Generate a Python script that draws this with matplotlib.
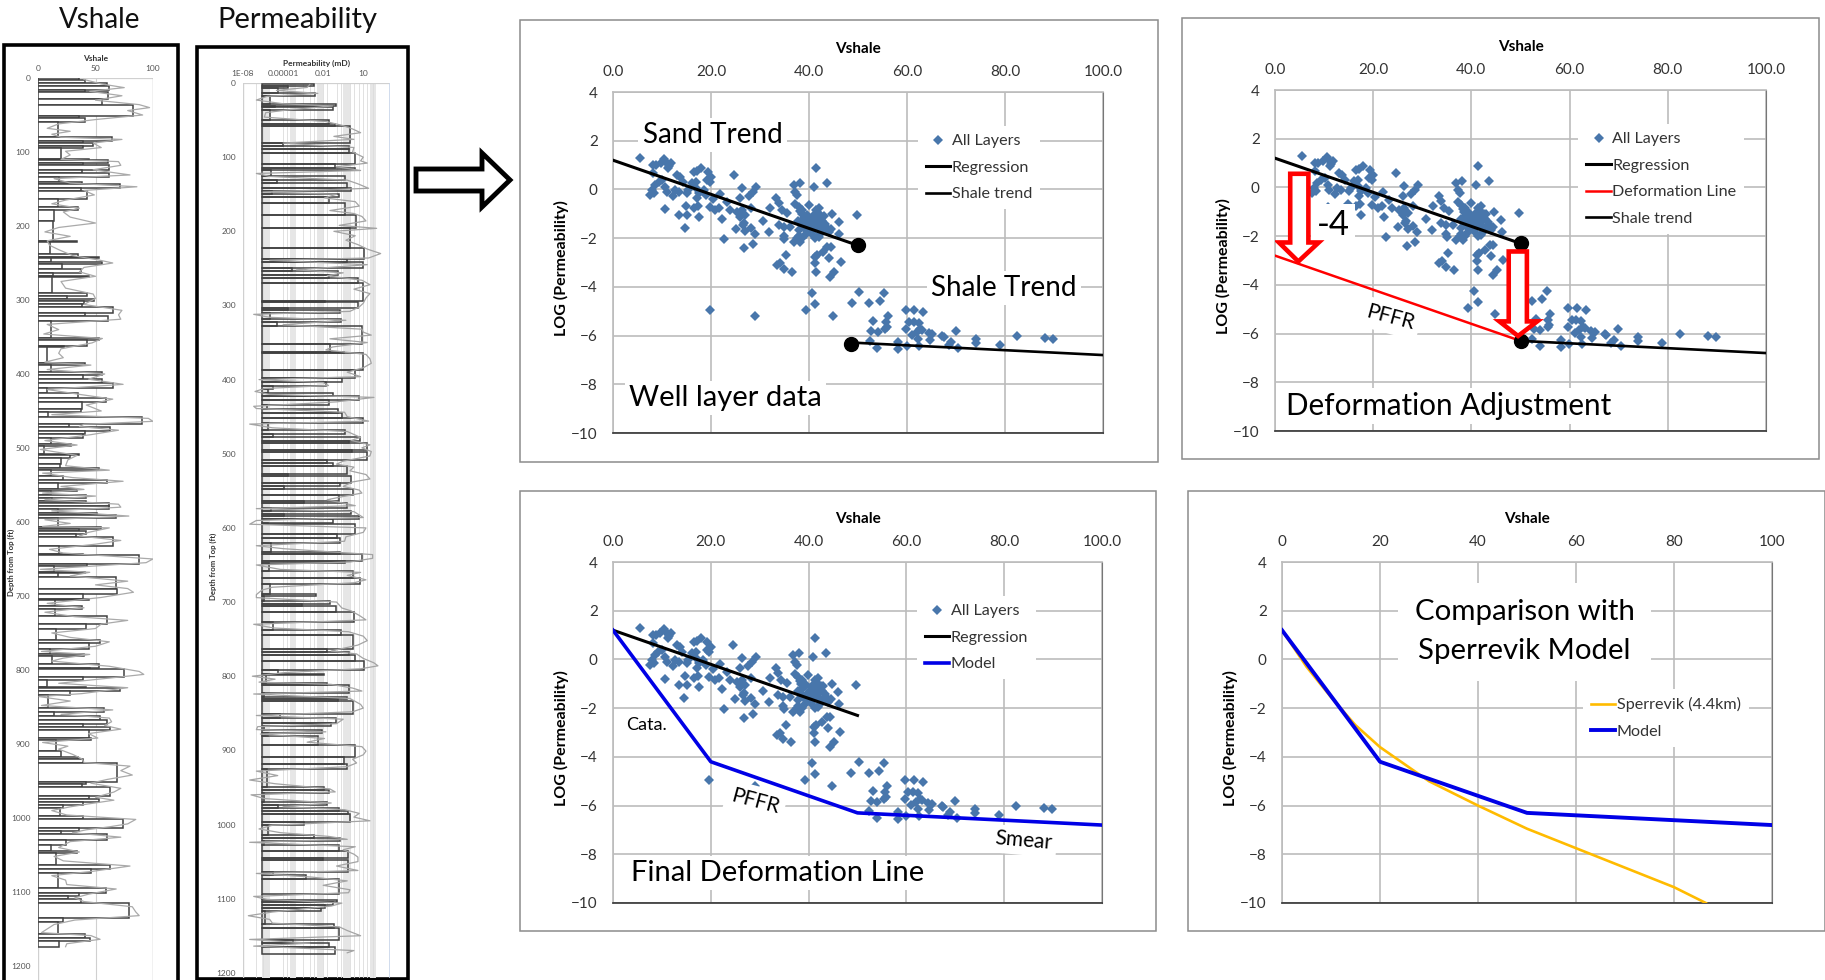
import numpy as np
import matplotlib
matplotlib.use('Agg')
import matplotlib.pyplot as plt
from matplotlib.patches import Rectangle, Polygon
from matplotlib.ticker import FormatStrFormatter, FixedLocator, NullFormatter

plt.rcParams['font.family'] = ['Lato', 'DejaVu Sans']

W, H = 1825, 980

# layer scatter
layer_vsh = [5.6, 8.2, 8.8, 9.7, 10.5, 10.9, 11.2, 11.9, 11.5, 8.2, 10.1, 9.3, 8.5, 8.0, 7.6, 8.3, 10.7, 11.0, 12.2, 12.7,
             13.4, 13.1, 13.7, 14.2, 15.1, 15.4, 16.1, 16.9, 16.5, 17.1, 18.0, 19.3, 20.0, 19.2, 19.7, 17.0, 17.5, 18.5, 19.0, 17.1,
             16.5, 17.3, 14.8, 13.4, 15.2, 17.5, 14.6, 10.7, 19.7, 20.4, 21.9, 21.7, 20.9, 23.3, 22.2, 22.7, 24.6, 26.3, 26.0, 25.0,
             23.9, 25.3, 26.3, 27.0, 26.0, 26.7, 26.5, 27.0, 26.8, 28.6, 28.2, 29.0, 28.2, 27.7, 28.5, 29.2, 30.7, 31.9, 32.1, 33.3,
             33.8, 34.4, 35.5, 33.8, 34.8, 36.2, 34.8, 35.0, 36.9, 38.6, 37.9, 36.9, 38.1, 37.2, 37.6, 37.2, 37.9, 38.6, 39.9, 41.0,
             41.4, 43.6, 42.0, 41.4, 44.7, 46.1, 44.5, 46.2, 49.7, 38.9, 39.6, 40.6, 41.6, 42.7, 43.3, 38.6, 37.9, 39.9, 41.0, 42.0,
             42.8, 44.0, 42.0, 41.3, 42.3, 39.3, 38.2, 37.6, 39.5, 40.2, 41.0, 41.8, 42.5, 38.5, 39.0, 40.5, 43.0, 43.5, 41.5, 42.2,
             40.9, 37.8, 38.2, 44.4, 43.7, 42.8, 41.6, 41.2, 44.0, 46.5, 41.2, 41.4, 45.2, 44.3, 35.3, 34.1, 33.5, 34.8, 36.5, 19.7,
             29.0, 40.6, 41.3, 39.3, 44.8, 50.3, 48.7, 52.3, 54.4, 55.4, 59.7, 61.5, 63.3, 53.1, 56.1, 55.7, 55.9, 55.5, 52.7, 54.0,
             59.7, 60.4, 61.4, 62.4, 62.7, 62.0, 61.0, 63.1, 64.4, 65.2, 64.6, 62.3, 67.2, 69.9, 69.0, 68.5, 70.4, 74.0, 74.0, 78.9,
             82.4, 88.2, 89.8, 52.4, 58.2, 53.9, 58.2, 59.9, 62.5, 67.5]
layer_logk = [1.29, 1.0, 1.0, 1.07, 1.23, 1.14, 0.89, 1.1, 0.96, 0.66, 0.38, 0.32, 0.18, -0.03, -0.23, -0.16, 0.08, -0.1, -0.27, -0.03,
              -0.1, 0.59, 0.49, 0.32, -0.16, -0.03, 0.25, 0.32, 0.73, 0.77, 0.9, 0.73, 0.52, 0.38, 0.32, 0.04, -0.16, -0.03, -0.23, -0.37,
              -0.78, -0.68, -0.68, -1.03, -1.03, -1.15, -1.59, -0.82, -0.74, -0.41, -0.19, -0.75, -0.85, -0.51, -1.22, -2.03, 0.58, 0.04, -0.37, -1.64,
              -0.85, -0.92, -0.85, -1.03, -1.15, -1.37, -1.47, -1.71, -2.4, -2.22, -1.6, -1.84, -0.78, -0.27, -0.1, 0.11, -1.29, -1.74, -0.78, -0.34,
              -0.55, -0.85, -0.95, -1.47, -1.53, -1.53, -1.92, -2.05, -2.15, -2.01, -1.92, 0.18, 0.27, -0.1, -0.23, -0.58, -0.71, -0.85, -0.64, 0.08,
              0.89, 0.25, -0.75, -0.85, -0.99, -1.33, -1.64, -1.84, -1.05, -1.19, -1.4, -1.19, -1.26, -1.29, -1.4, -1.47, -1.67, -1.6, -1.67, -1.53,
              -1.67, -1.74, -1.95, -2.01, -1.81, -1.81, -2.15, -2.01, -1.05, -1.3, -1.05, -0.95, -1.1, -1.0, -1.6, -1.8, -1.1, -1.55, -1.45, -1.35,
              -1.5, -1.3, -0.9, -2.36, -2.38, -2.56, -2.7, -2.77, -2.81, -2.97, -3.04, -3.38, -3.37, -3.59, -2.71, -3.04, -3.11, -3.25, -3.41, -4.96,
              -5.21, -4.24, -4.69, -4.93, -5.2, -4.2, -4.65, -4.67, -4.57, -4.27, -4.95, -4.93, -5.02, -5.4, -5.2, -5.43, -5.64, -5.75, -5.8, -5.84,
              -5.73, -5.45, -5.45, -5.5, -5.73, -5.84, -5.98, -5.77, -5.91, -5.94, -6.18, -6.16, -6.02, -5.81, -6.25, -6.39, -6.49, -6.16, -6.32, -6.39,
              -6.0, -6.1, -6.16, -6.23, -6.25, -6.5, -6.55, -6.43, -6.43, -6.07]

# trend lines
reg_x = [0, 50]
reg_y = [1.2, -2.3]
shale_x = [50, 60, 70, 80, 100]
shale_y = [-6.3, -6.4, -6.5, -6.6, -6.8]
deform_x = [0, 50]
deform_y = [-2.8, -6.3]
model_x = [0, 20, 50, 60, 70, 80, 100]
model_y = [1.2, -4.2, -6.3, -6.4, -6.5, -6.6, -6.8]
sperr_x = [0, 5, 10, 15, 20, 30, 40, 50, 60, 70, 80, 86.5]
sperr_y = [1.2, -0.3, -1.55, -2.7, -3.6, -5.0, -6.0, -6.95, -7.75, -8.55, -9.35, -10.0]

x_ticks = [0, 20, 40, 60, 80, 100]
y_ticks = [4, 2, 0, -2, -4, -6, -8, -10]

# Vshale log: layer tops (last entry is the last base), layer values
vsh_tops = [0, 3, 7, 11, 16, 19, 29, 36, 52, 54, 60, 80, 85, 88, 92, 95, 109, 111, 115, 117, 124, 128, 134, 140, 143, 149, 153, 163,
            175, 178, 193, 220, 222, 238, 242, 243, 249, 252, 258, 263, 268, 269, 291, 295, 299, 301, 305, 309, 317, 321,
            329, 351, 354, 362, 364, 385, 388, 397, 402, 407, 412, 419, 426, 432, 438, 448, 452, 458, 468, 472, 477, 481, 487, 495, 498,
            508, 509, 514, 521, 527, 530, 538, 543, 547, 555, 558, 563, 567, 572, 574, 578, 582, 588, 590, 594, 607, 609, 612, 616, 620,
            633, 643, 645, 657, 660, 667, 669, 675, 690, 698, 704, 706, 713, 717, 727, 738, 745, 760, 764,
            772, 778, 781, 792, 797, 799, 810, 814, 823, 825, 828, 834, 852, 857, 862, 867, 873, 877, 881, 892, 895, 909, 918, 921, 926,
            951, 954, 958, 970, 974, 978, 982, 986, 998, 1001, 1014, 1018, 1022, 1030, 1037, 1045, 1048, 1063, 1069, 1075, 1094, 1102,
            1105, 1110, 1115, 1135, 1140, 1157, 1162, 1166, 1175]
vsh_vals = [36, 41, 60, 62, 41, 61, 56, 83, 36, 41, 17, 64, 39, 48, 39, 20, 44, 61, 39, 62, 38, 62, 18, 38, 71, 37, 43, 17,
            35, 14, 13, 34, 10, 35, 53, 11, 56, 21, 37, 13, 44, 12, 43, 25, 49, 40, 38, 65, 41, 61,
            11, 53, 43, 23, 8, 41, 11, 56, 39, 56, 65, 8, 35, 59, 38, 37, 9, 90, 27, 63, 41, 39, 11, 29, 5,
            36, 28, 20, 19, 53, 11, 22, 60, 17, 34, 11, 42, 12, 42, 62, 62, 17, 51, 68, 17, 55, 36, 42, 33, 65,
            18, 39, 88, 43, 14, 41, 17, 68, 69, 39, 44, 15, 38, 15, 60, 42, 16, 54, 44,
            10, 40, 12, 53, 45, 75, 39, 8, 42, 71, 28, 9, 57, 14, 54, 60, 39, 63, 44, 46, 16, 20, 35, 39, 69,
            42, 38, 63, 44, 53, 39, 22, 19, 39, 74, 36, 20, 60, 24, 11, 34, 16, 63, 46, 17, 59, 36,
            26, 37, 79, 22, 17, 41, 45, 18]

# raw Vshale curve
vsh_raw_d = [2, 8, 13, 18, 24, 30, 36, 40, 44, 50, 56, 62, 68, 72, 76, 80, 83, 88, 94, 99, 104, 110, 113, 118, 124, 131, 136, 142, 147, 152, 158,
             165, 170, 176, 181, 188, 196, 202, 208, 214, 220, 226, 232, 240, 246, 250, 256, 262, 268, 275, 284, 292, 298, 306, 314, 320, 326, 333, 340, 346,
             352, 358, 366, 372, 378, 384, 388, 394, 400, 407, 414, 421, 428, 434, 442, 450, 455, 460, 464, 468, 471, 476, 482, 490, 496, 502, 510, 516, 524,
             530, 534, 540, 545, 552, 556, 561, 565, 570, 576, 580, 585, 592, 597, 602, 606, 608, 614, 619, 625, 630, 637, 642, 650, 655, 660, 664, 668, 673,
             680, 685, 690, 695, 702, 710, 716, 722, 728, 733, 738, 744, 750, 756, 762, 768, 775,
             779, 784, 788, 795, 802, 806, 811, 818, 824, 828, 832, 836, 842, 848, 854, 860, 865, 870, 875, 880, 886, 892, 898, 903, 907, 914, 920, 925, 930,
             936, 942, 948, 953, 960, 965, 972, 976, 981, 985, 990, 996, 1002, 1008, 1012, 1016, 1020, 1026, 1032, 1040, 1046, 1052, 1058, 1065, 1072, 1078,
             1084, 1090, 1096, 1103, 1108, 1113, 1120, 1127, 1132, 1138, 1144, 1150, 1155, 1159, 1164, 1170, 1174]
vsh_raw_v = [40, 55, 75, 45, 73, 50, 88, 97, 78, 91, 51, 18, 8, 28, 12, 20, 73, 48, 55, 24, 28, 20, 70, 72, 48, 80, 14, 28, 86, 40, 49,
             24, 12, 36, 22, 28, 50, 18, 6, 28, 8, 10, 18, 30, 53, 65, 40, 36, 50, 20, 24, 48, 50, 40, 73, 70, 72, 8, 18, 5,
             56, 47, 20, 18, 22, 6, 46, 8, 58, 44, 74, 8, 38, 65, 42, 55, 12, 96, 100, 40, 36, 70, 46, 6, 34, 2, 34, 26, 24,
             62, 4, 30, 74, 20, 40, 4, 50, 6, 70, 72, 12, 79, 6, 28, 4, 62, 44, 36, 72, 50, 10, 22, 100, 94, 44, 2, 45, 28,
             78, 50, 78, 83, 55, 8, 40, 6, 32, 78, 55, 50, 12, 28, 62, 50, 3,
             45, 22, 12, 62, 88, 92, 62, 18, 78, 58, 38, 1, 28, 3, 65, 20, 62, 64, 58, 72, 44, 52, 4, 26, 18, 30, 38, 40, 80,
             72, 82, 60, 46, 72, 66, 50, 66, 44, 28, 12, 25, 85, 78, 62, 42, 30, 72, 28, 18, 36, 14, 22, 80, 48, 12,
             24, 25, 68, 44, 32, 40, 82, 85, 88, 32, 14, 8, 3, 46, 54, 25, 24]

# Permeability log, log10(mD) per layer
perm_tops = [1, 4, 7, 13, 17, 28, 31, 33, 36, 50, 55, 58, 81, 85, 89, 95, 109, 114, 118, 125, 131, 135, 142, 145, 150, 154, 162, 178, 195,
             222, 238, 241, 250, 253, 259, 263, 270, 294, 296, 303, 306, 310, 318, 322, 328,
             352, 363, 364, 387, 398, 403, 408, 412, 418, 422, 427, 434, 440, 445, 452, 459, 468, 473, 477, 483, 486, 495, 498, 508, 513, 516,
             527, 530, 540, 543, 548, 555, 564, 567, 573, 577, 581, 584, 588, 593, 595, 608, 613, 620, 632, 635, 645, 647, 658, 667, 676, 689,
             692, 698, 702, 705, 713, 727, 738, 744,
             763, 768, 772, 780, 792, 797, 799, 809, 812, 822, 828, 831, 834, 851, 856, 863, 867, 872, 876, 881, 893, 909, 918, 925, 950, 954,
             958, 969, 974, 978, 982, 986, 997, 1000, 1014, 1018, 1022, 1028, 1036, 1045, 1048, 1064, 1068, 1074, 1094, 1102, 1105, 1108, 1112,
             1116, 1134, 1139, 1156, 1160, 1165, 1174]
perm_vals = [-2.7, -4.6, -5.4, -2.6, -5.95, -1.05, -5.6, -1.25, -5.95, -1.6, -1.1, -0.03, -5.0, -0.05, -0.1, 0.4, -1.1, 0.38, -5.9, -0.4, -5.45, -0.25, 0.1, -5.8, -0.8, -1.55, -0.35, 0.48, -0.03,
             1.08, -0.25, 1.0, -4.3, -0.88, -1.55, 0.58, 0.98, -1.9, 0.58, -4.6, -0.75, -5.95, -0.7, -5.45, 0.88,
             -1.5, -0.45, 1.0, 0.38, -0.6, -1.8, -5.75, -6.1, -1.25, 0.7, -1.55, -6.2, -0.88, -0.6, 0.98, -6.1, -0.33, -5.75, 0.75, -0.1, 1.25, 0.13, 1.3, -1.7, -1.25, -0.25,
             -4.6, 0.05, -0.75, -4.95, 0.25, -0.83, -3.4, -0.25, -5.9, 0.05, -4.9, 0.7, -1.25, -6.1, 0.38, -0.93, -0.75, -5.9, -0.75, 0.9, -0.4, -6.05, 0.25, 0.75, -5.95, -2.55,
             -6.4, -1.5, -3.6, -1.05, 0.33, -5.75, -0.63, 0.25,
             -1.7, -0.05, 0.35, 1.08, -5.4, -1.95, -6.25, -1.7, -0.05, -6.4, -0.25, -0.88, 0.2, -5.2, -1.05, -1.4, -6.4, -2.07, -6.1, -2.4, 0.4, -0.45, -0.25, -6.2, -1.93, -1.6,
             -6.4, -1.7, -5.4, -0.8, -0.18, 0.0, -3.4, -6.1, -2.7, -0.75, -6.4, -0.83, -0.13, -2.0, -0.18, -5.75, -3.3, -0.78, -6.55, -0.95, -1.25, -1.9, -2.2,
             -6.35, -1.22, -0.8, -4.25, -1.6, -1.1]

perm_raw_d = [2, 6, 10, 14, 18, 23, 28, 31, 36, 40, 46, 52, 57, 62, 67, 72, 76, 81, 87, 93, 100, 105, 108, 113, 118, 122, 126, 131, 136, 142, 147, 150, 155, 160, 166, 172,
              176, 180, 186, 192, 196, 200, 206, 212, 218, 224, 230, 236, 239, 245, 252, 256, 260, 266, 272, 278, 284, 290, 297, 302, 308, 312, 316, 320, 326, 332,
              336, 340, 345, 350, 356, 360, 366, 372, 378, 384, 390, 396, 400, 404, 408, 412, 416, 420, 424, 430, 436, 439, 444, 450, 456, 460, 465, 470, 478, 482, 488, 492, 497, 503,
              510, 514, 518, 523, 528, 534, 538, 544, 549, 553, 558, 562, 570, 574, 578, 586, 590, 595, 600, 606, 612, 618, 624, 628, 636, 641, 646, 650, 656, 660, 664, 670, 674,
              680, 684, 690, 694, 700, 708, 712, 718, 724, 730, 735, 740, 746, 752, 758,
              766, 770, 776, 782, 786, 790, 795, 800, 804, 808, 811, 816, 820, 824, 830, 838, 843, 848, 853, 858, 864, 868, 872, 875, 878, 884, 889, 895, 901, 906, 912, 917, 922,
              928, 934, 940, 945, 952, 956, 960, 965, 971, 976, 980, 985, 990, 995, 1001, 1006, 1011, 1016, 1020, 1024, 1030, 1034, 1040, 1044, 1050, 1056, 1062, 1066, 1071, 1076,
              1082, 1088, 1092, 1097, 1101, 1106, 1110, 1118, 1123, 1128, 1133, 1138, 1143, 1150, 1155, 1160, 1164, 1170, 1173]
perm_raw_v = [-3, -3.2, -5.5, -2.4, -6.2, -7, -5, -1.3, -4.5, -6.3, -6.4, -1.8, -0.6, 0.2, 0.8, -1.2, 0.3, -5, 0.3, 0.2, 1.0, 0.8, 1.3, -1, 0.8, -7, -6, -0.2, 0.6, 1.4, -6.5, -1, -1.9, 0.4, 0.7, -1.5,
              0.3, 0.9, 1.2, -0.8, 2.0, -1.2, 0.4, -0.3, 0.6, 1.3, 2.3, 1.4, -6, 1.3, -4, -0.5, -1.7, 0.9, 1.5, 0.3, 1.5, 1.2, 1, 0.7, 0, -7.2, -6, -0.3, -5, 0.9,
              1, 1.6, -1.5, 1.3, -1.3, -1.8, 1.2, 1.5, 1.6, 1.0, -0.2, 0.8, -6.8, -2, -1.6, -6.4, -7.1, -6, 1.8, -1.0, -7.2, -7, -0.4, -0.2, 1.4, -7.5, -5.8, -0.2, 0.8, 0.1, 1.5, 0.9, 1.6, 1.5,
              -0.5, -1, 0.3, 0, 1.2, 1.5, 0.2, -0.5, 0.7, 0.9, -0.6, -1.7, 0.4, -7, 0.3, 1.0, -7, -7.5, 1.2, 1.0, -0.3, -0.4, -7, -5, 1.7, 1.7, 0, -7, -5.2, 0.8, -0.2, 1.2, 0.3,
              -5.8, -6.6, -7, -7, -1, -0.6, 0.1, 0.7, 1.2, -7.2, -5.7, -0.1, 1, 1.3, 0.6,
              -1.4, 0.5, 1, 1.8, 2.1, 0.8, -4.8, -7.3, -5.6, -6.8, -1.4, 0.2, 0.9, -7.2, 0.0, 0.8, 1, 0.2, -7, -0.5, -1, -6.9, -7, -1.8, -6.7, -1.9, -3.2, 0.9, 1.2, 1.0, 0.2, 0.5, -0.2,
              -7, -5.4, -7.5, -5.6, -1.5, -1.1, -7.4, -6.4, -1.4, -5, -0.4, 0.7, 0.3, 1.5, -5.8, -6.8, -5.2, -1.6, -0.2, -7.5, 0.4, -0.5, 0.3, 0.6, 0.6, -1, 0.6, -7, -2.8, -0.2,
              -2, 0, -0.1, -7.2, -6.2, -0.6, -1.4, -5.8, -7.6, -6, -5.8, -0.8, -0.2, 0.8, -7.5, -3, -7.2, 0.3, -0.2]
perm_bands = [(-6.55, -6.0), (-4.5, -4.0), (-2.5, -2.0), (-0.5, 0.0), (1.5, 1.95)]

depth_ticks = list(range(0, 1300, 100))

BLUE = '#4876ab'


def px_axes(fig, x0, y0, x1, y1):
    # axes placed by pixel box, y measured from the top
    return fig.add_axes([x0 / W, 1 - y1 / H, (x1 - x0) / W, (y1 - y0) / H])


def white_text(ax, x, y, s, size=20, rot=0, pad=3, **kw):
    ax.text(x, y, s, fontsize=size, rotation=rot, ha='center', va='center', color='black', zorder=4,
            bbox=dict(facecolor='white', edgecolor='none', pad=pad), **kw)


def cross_plot(fig, box, tick_fmt='%.1f'):
    ax = px_axes(fig, *box)
    ax.set_xlim(0, 100)
    ax.set_ylim(-10, 4)
    ax.xaxis.tick_top()
    ax.xaxis.set_label_position('top')
    ax.set_xticks(x_ticks)
    ax.set_yticks(y_ticks)
    ax.xaxis.set_major_formatter(FormatStrFormatter(tick_fmt))
    ax.tick_params(length=0, labelsize=11, labelcolor='#333333', pad=9)
    ax.tick_params(axis='y', pad=11)
    ax.grid(True, color='#bcbcbc', lw=1.2, zorder=0)
    ax.set_axisbelow(True)
    for side in ['top', 'left']:
        ax.spines[side].set_color('#bcbcbc')
        ax.spines[side].set_linewidth(1.2)
    ax.spines['right'].set_color('#777777')
    ax.spines['bottom'].set_color('#333333')
    ax.spines['bottom'].set_linewidth(1.2)
    ax.set_xlabel('Vshale', fontsize=11, fontweight='bold', labelpad=9)
    ax.set_ylabel('LOG (Permeability)', fontsize=11.5, fontweight='bold', labelpad=1.3, y=0.485)
    return ax


def add_legend(ax, x, y):
    leg = ax.legend(loc='upper left', bbox_to_anchor=(x, y), borderaxespad=0, frameon=True, framealpha=1,
                    facecolor='white', edgecolor='none', fontsize=11.6, labelspacing=0.75, handlelength=1.5,
                    handletextpad=0.1, borderpad=0.5, labelcolor='#333333')
    leg.get_frame().set_linewidth(0)
    leg.set_zorder(2)


def scatter(ax):
    ax.plot(layer_vsh, layer_logk, 'D', color=BLUE, ms=5, mew=0, label='All Layers', zorder=3, clip_on=False)


fig = plt.figure(figsize=(W / 100, H / 100), dpi=100)

# page layer: boxes, headers and the big arrow, in reference pixels
page = fig.add_axes([0, 0, 1, 1], zorder=0)
page.set_xlim(0, W)
page.set_ylim(H, 0)
page.axis('off')
for box in [(520, 20, 1158, 462), (1182, 18, 1819, 459), (520, 491, 1156, 931), (1188, 491, 1825, 931)]:
    page.add_patch(Rectangle((box[0], box[1]), box[2] - box[0], box[3] - box[1], fc='white', ec='#8c8c8c', lw=1.1))
page.add_patch(Rectangle((4, 45), 174, 960, fc='white', ec='black', lw=2.6))
page.add_patch(Rectangle((197, 47), 211, 932, fc='white', ec='black', lw=2.6))
page.text(100, 20, 'Vshale', fontsize=20, ha='center', va='center', color='#111111')
page.text(297, 20, 'Permeability', fontsize=21, ha='center', va='center', color='#111111')
page.add_patch(Polygon([(416, 169), (482, 169), (482, 153), (510, 180), (482, 207), (482, 191), (416, 191)],
                       closed=True, fc='white', ec='black', lw=3.5))
page.text(11, 562, 'Depth from Top (ft)', fontsize=5.6, fontweight='bold', rotation=90, ha='center', va='center', color='#333333')
page.text(213, 566, 'Depth from Top (ft)', fontsize=5.6, fontweight='bold', rotation=90, ha='center', va='center', color='#333333')

# Vshale log
v_ax = px_axes(fig, 38, 78, 153, 980)
v_ax.patch.set_alpha(0)
v_ax.set_xlim(0, 100)
v_ax.set_ylim(1219, 0)
v_heights = np.diff(vsh_tops)
v_ax.barh(vsh_tops[:len(v_heights)], vsh_vals[:len(v_heights)], height=v_heights, align='edge',
          color='white', edgecolor='#404040', lw=1.1, zorder=2)
v_ax.plot(vsh_raw_v, vsh_raw_d, color='#aaaaaa', lw=0.9, zorder=3)
v_ax.xaxis.tick_top()
v_ax.set_xticks([0, 50, 100])
v_ax.set_yticks(depth_ticks)
v_ax.tick_params(labelsize=6, length=0, labelcolor='#555555', pad=4)
v_ax.tick_params(axis='y', pad=5.5)
v_ax.grid(axis='x', color='#d0d0d0', lw=0.8)
v_ax.set_axisbelow(True)
for s in v_ax.spines.values():
    s.set_visible(False)
v_ax.axvline(0, color='#d0d0d0', lw=0.9, zorder=1)
v_ax.axhline(0, color='#d0d0d0', lw=0.9, zorder=1)
v_ax.axvline(100, color='#c4c4c4', lw=1.0, zorder=1)
v_ax.xaxis.set_label_position('top')
v_ax.set_xlabel('Vshale', fontsize=6, fontweight='bold', labelpad=3, color='#333333')

# Permeability log
p_ax = px_axes(fig, 243, 83, 390, 978)
p_ax.patch.set_alpha(0)
p_ax.set_xscale('log')
p_ax.set_xlim(1e-8, 1e3)
p_ax.set_ylim(1207, 0)
base = 10 ** -6.55
p_heights = np.diff(perm_tops)
p_vals = 10.0 ** np.array(perm_vals[:len(p_heights)])
p_ax.barh(perm_tops[:len(p_heights)], p_vals - base, height=p_heights, left=base, align='edge',
          color='none', edgecolor='#404040', lw=1.1, zorder=2)
p_ax.plot(10.0 ** np.array(perm_raw_v), perm_raw_d, color='#a4a4a4', lw=0.9, zorder=3)
for b0, b1 in perm_bands:
    p_ax.axvspan(10 ** b0, 10 ** b1, color='#e6e6e6', lw=0, zorder=0)
p_ax.xaxis.tick_top()
p_ax.xaxis.set_major_locator(FixedLocator([1e-8, 1e-5, 1e-2, 10]))
p_ax.set_xticklabels(['1E-08', '0.00001', '0.01', '10'])
p_ax.xaxis.set_minor_locator(FixedLocator([10.0 ** e for e in [-7, -6.5, -5, -4.7, -3.5, -3, -2.7, -1.7, -1, -0.7, 0, 0.3, 0.7, 1.3, 1.7]]))
p_ax.xaxis.set_minor_formatter(NullFormatter())
p_ax.set_yticks(depth_ticks)
p_ax.tick_params(which='both', labelsize=6, length=0, labelcolor='#555555', pad=4)
p_ax.tick_params(axis='y', pad=5)
p_ax.grid(axis='x', which='both', color='#dcdcdc', lw=0.6)
p_ax.set_axisbelow(True)
for s in p_ax.spines.values():
    s.set_visible(False)
p_ax.axvline(1e-8, color='#d0d0d0', lw=1.0, zorder=1)
p_ax.axhline(0, color='#d0d0d0', lw=0.9, zorder=1)
p_ax.axvline(1e3, color='#c8d6ea', lw=1.2, zorder=1)
p_ax.xaxis.set_label_position('top')
p_ax.set_xlabel('Permeability (mD)', fontsize=6, fontweight='bold', labelpad=3, color='#333333')

# well layer data
ax1 = cross_plot(fig, (613, 92, 1103, 433))
white_text(ax1, 20.3, 2.23, 'Sand Trend')
white_text(ax1, 79.8, -4.04, 'Shale Trend')
white_text(ax1, 23, -8.56, 'Well layer data', size=21)
scatter(ax1)
ax1.plot(reg_x, reg_y, color='black', lw=2.2, label='Regression', zorder=3)
ax1.plot(shale_x, shale_y, color='black', lw=1.9, label='Shale trend', zorder=3)
ax1.plot([50, 48.5], [-2.3, -6.35], 'o', color='black', ms=10, zorder=5)
add_legend(ax1, 0.622, 0.90)

# deformation adjustment
ax2 = cross_plot(fig, (1275, 90, 1766, 431))
white_text(ax2, 35.4, -8.97, 'Deformation Adjustment', size=21.3)
white_text(ax2, 23.5, -5.36, 'PFFR', size=15, rot=-15, pad=4)
white_text(ax2, 11.9, -1.56, '-4', size=25, pad=4)
scatter(ax2)
ax2.plot(reg_x, reg_y, color='black', lw=2.2, label='Regression', zorder=3)
ax2.plot(deform_x, deform_y, color='#ff0000', lw=1.8, label='Deformation Line', zorder=3)
ax2.plot(shale_x, shale_y, color='black', lw=1.9, label='Shale trend', zorder=3)
ax2.plot([50, 50], [-2.3, -6.3], 'o', color='black', ms=10, zorder=5)
arrow_1 = [(3.1, 0.56), (6.8, 0.56), (6.8, -2.26), (8.9, -2.26), (4.75, -3.04), (0.8, -2.26), (3.1, -2.26)]
arrow_2 = [(47.6, -2.63), (51.3, -2.63), (51.3, -5.5), (53.4, -5.5), (49.5, -6.1), (45.7, -5.5), (47.6, -5.5)]
for arr in [arrow_1, arrow_2]:
    ax2.add_patch(Polygon(arr, closed=True, fc='white', ec='#ff0000', lw=3.3, zorder=6))
add_legend(ax2, 0.618, 0.90)

# final deformation line
ax3 = cross_plot(fig, (613, 562, 1102, 903))
white_text(ax3, 6.85, -2.68, 'Cata.', size=13)
white_text(ax3, 29.1, -5.84, 'PFFR', size=15, rot=-15, pad=4)
white_text(ax3, 84, -7.45, 'Smear', size=15, rot=-5)
white_text(ax3, 33.6, -8.77, 'Final Deformation Line', size=21)
scatter(ax3)
ax3.plot(reg_x, reg_y, color='black', lw=2.2, label='Regression', zorder=3)
ax3.plot(model_x, model_y, color='#0000e6', lw=2.6, label='Model', zorder=3)
add_legend(ax3, 0.622, 0.90)

# comparison
ax4 = cross_plot(fig, (1282, 562, 1772, 903), tick_fmt='%d')
ax4.text(49.5, 1.14, 'Comparison with\nSperrevik Model', fontsize=21.2, ha='center', va='center', linespacing=1.6, zorder=4,
         bbox=dict(facecolor='white', edgecolor='none', pad=12))
ax4.plot(sperr_x, sperr_y, color='#ffbb00', lw=1.9, label='Sperrevik (4.4km)', zorder=3)
ax4.plot(model_x, model_y, color='#0000e6', lw=2.8, label='Model', zorder=3.5)
add_legend(ax4, 0.614, 0.627)

fig.savefig('out.png', dpi=100)
